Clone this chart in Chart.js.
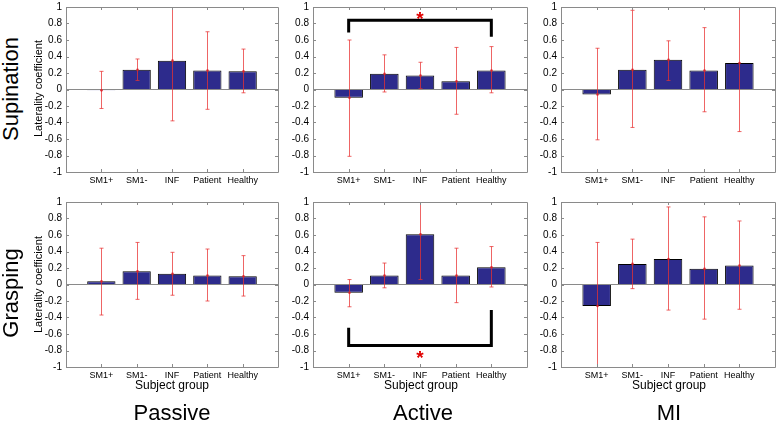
<!DOCTYPE html>
<html>
<head>
<meta charset="utf-8">
<script src="https://cdn.jsdelivr.net/npm/chart.js@4.4.1/dist/chart.umd.min.js"></script>
<style>
  html, body { margin: 0; padding: 0; background: #fff; overflow: hidden; }
  #fig { position: relative; width: 778px; height: 423px; font-family: 'Liberation Sans', Arial, Helvetica, sans-serif; }
  #fig canvas { position: absolute; }
  .lbl { position: absolute; white-space: nowrap; text-align: center; color: #000; }
  .rot { transform: rotate(-90deg); }
</style>
</head>
<body>
<div id="fig"></div>
<script>
var groups = ['SM1+', 'SM1-', 'INF', 'Patient', 'Healthy'];
var yTickValues = [-1, -0.8, -0.6, -0.4, -0.2, 0, 0.2, 0.4, 0.6, 0.8, 1];
var rowNames = ['Supination', 'Grasping'];
var colNames = ['Passive', 'Active', 'MI'];

// mean laterality coefficient and error bar ends, per condition
var supPassiveMean = [-0.01, 0.24, 0.35, 0.23, 0.22];
var supPassiveLow  = [-0.23, 0.11, -0.38, -0.24, -0.04];
var supPassiveHigh = [0.22, 0.37, 1.05, 0.70, 0.49];

var supActiveMean = [-0.10, 0.19, 0.17, 0.10, 0.23];
var supActiveLow  = [-0.81, -0.03, 0.01, -0.30, -0.04];
var supActiveHigh = [0.60, 0.42, 0.33, 0.51, 0.52];

var supMiMean = [-0.06, 0.24, 0.36, 0.23, 0.32];
var supMiLow  = [-0.61, -0.46, 0.11, -0.27, -0.51];
var supMiHigh = [0.50, 0.96, 0.59, 0.75, 1.05];

var grPassiveMean = [0.04, 0.16, 0.13, 0.11, 0.10];
var grPassiveLow  = [-0.37, -0.18, -0.13, -0.20, -0.14];
var grPassiveHigh = [0.44, 0.51, 0.39, 0.43, 0.35];

var grActiveMean = [-0.10, 0.11, 0.61, 0.11, 0.21];
var grActiveLow  = [-0.27, -0.04, 0.06, -0.22, -0.03];
var grActiveHigh = [0.06, 0.26, 1.05, 0.44, 0.46];

var grMiMean = [-0.26, 0.25, 0.31, 0.19, 0.23];
var grMiLow  = [-1.05, -0.05, -0.31, -0.42, -0.30];
var grMiHigh = [0.51, 0.55, 0.94, 0.82, 0.77];

// significance brackets: [bar level, left leg end, right leg end, star level]
var supActiveBracket = [0.84, 0.69, 0.64, 0.92];
var grActiveBracket = [-0.74, -0.525, -0.31, -0.83];

var fontFamily = "'Liberation Sans', Arial, Helvetica, sans-serif";
var fig = document.getElementById('fig');

var errorBarPlugin = {
    id: 'errorBars',
    afterDatasetsDraw: function (chart, args, opts) {
        var ctx = chart.ctx, x = chart.scales.x, y = chart.scales.y, a = chart.chartArea;
        ctx.save();
        ctx.beginPath();
        ctx.rect(a.left, a.top, a.right - a.left, a.bottom - a.top);
        ctx.clip();
        ctx.strokeStyle = 'rgba(232,50,50,0.75)';
        ctx.fillStyle = 'rgba(220,30,40,0.85)';
        ctx.lineWidth = 1;
        opts.low.forEach(function (lo, i) {
            var px = Math.round(x.getPixelForValue(i + 1)) + 0.5;
            var pLo = y.getPixelForValue(lo);
            var pHi = y.getPixelForValue(opts.high[i]);
            ctx.beginPath();
            ctx.moveTo(px, pLo); ctx.lineTo(px, pHi);
            ctx.moveTo(px - 2, pLo); ctx.lineTo(px + 2, pLo);
            ctx.moveTo(px - 2, pHi); ctx.lineTo(px + 2, pHi);
            ctx.stroke();
            ctx.beginPath();
            ctx.arc(px, y.getPixelForValue(opts.mean[i]), 1.3, 0, Math.PI * 2);
            ctx.fill();
        });
        ctx.restore();
    }
};

var framePlugin = {
    id: 'frame',
    afterDraw: function (chart) {
        var ctx = chart.ctx, a = chart.chartArea, x = chart.scales.x, y = chart.scales.y;
        ctx.save();
        ctx.strokeStyle = '#8a8a8a';
        ctx.lineWidth = 1;
        ctx.beginPath();
        ctx.rect(Math.round(a.left) + 0.5, Math.round(a.top) + 0.5,
                 Math.round(a.right - a.left), Math.round(a.bottom - a.top));
        yTickValues.forEach(function (v) {
            var py = Math.round(y.getPixelForValue(v)) + 0.5;
            ctx.moveTo(a.left, py); ctx.lineTo(a.left + 3, py);
            ctx.moveTo(a.right, py); ctx.lineTo(a.right - 3, py);
        });
        groups.forEach(function (g, i) {
            var px = Math.round(x.getPixelForValue(i + 1)) + 0.5;
            ctx.moveTo(px, a.bottom); ctx.lineTo(px, a.bottom - 3);
            ctx.moveTo(px, a.top); ctx.lineTo(px, a.top + 3);
        });
        ctx.stroke();
        ctx.restore();
    }
};

var bracketPlugin = {
    id: 'bracket',
    afterDraw: function (chart, args, opts) {
        if (!opts.levels) return;
        var ctx = chart.ctx, x = chart.scales.x, y = chart.scales.y;
        var b = opts.levels;
        var x1 = x.getPixelForValue(1), x2 = x.getPixelForValue(5);
        ctx.save();
        ctx.strokeStyle = '#000';
        ctx.lineWidth = 3;
        ctx.lineJoin = 'miter';
        ctx.beginPath();
        ctx.moveTo(x1, y.getPixelForValue(b[1]));
        ctx.lineTo(x1, y.getPixelForValue(b[0]));
        ctx.lineTo(x2, y.getPixelForValue(b[0]));
        ctx.lineTo(x2, y.getPixelForValue(b[2]));
        ctx.stroke();
        ctx.fillStyle = '#e00000';
        ctx.font = 'bold 19px ' + fontFamily;
        ctx.textAlign = 'center';
        ctx.textBaseline = 'alphabetic';
        ctx.fillText('*', x.getPixelForValue(3), y.getPixelForValue(b[3]) + 11);
        ctx.restore();
    }
};

var panels = [
    { left: 66,  top: 5,   width: 213, height: 167, mean: supPassiveMean, low: supPassiveLow, high: supPassiveHigh },
    { left: 313, top: 5,   width: 215, height: 167, mean: supActiveMean, low: supActiveLow, high: supActiveHigh, bracket: supActiveBracket },
    { left: 561, top: 5,   width: 215, height: 167, mean: supMiMean, low: supMiLow, high: supMiHigh },
    { left: 66,  top: 200, width: 213, height: 167, mean: grPassiveMean, low: grPassiveLow, high: grPassiveHigh },
    { left: 313, top: 200, width: 215, height: 167, mean: grActiveMean, low: grActiveLow, high: grActiveHigh, bracket: grActiveBracket },
    { left: 561, top: 200, width: 215, height: 167, mean: grMiMean, low: grMiLow, high: grMiHigh }
];

var padTop = 8, padRight = 2, yAxisW = 40, xAxisH = 22;

panels.forEach(function (p) {
    var canvas = document.createElement('canvas');
    canvas.width = p.width + yAxisW + padRight;
    canvas.height = p.height + padTop + xAxisH;
    canvas.style.left = (p.left - yAxisW) + 'px';
    canvas.style.top = (p.top - padTop) + 'px';
    fig.appendChild(canvas);

    new Chart(canvas, {
        type: 'bar',
        data: {
            labels: [''].concat(groups, ['']),
            datasets: [{
                data: [null].concat(p.mean, [null]),
                backgroundColor: '#2d2b8c',
                borderColor: '#000',
                borderWidth: 1,
                categoryPercentage: 1,
                barPercentage: 0.8
            }]
        },
        options: {
            responsive: false,
            animation: false,
            events: [],
            layout: { padding: { top: padTop, right: padRight, left: 0, bottom: 0 } },
            plugins: {
                legend: { display: false },
                tooltip: { enabled: false },
                errorBars: { mean: p.mean, low: p.low, high: p.high },
                bracket: { levels: p.bracket || null }
            },
            scales: {
                x: {
                    type: 'category',
                    offset: false,
                    grid: { display: false, drawTicks: false },
                    border: { display: false },
                    ticks: { color: '#000', font: { family: fontFamily, size: 9 }, padding: 3, maxRotation: 0, autoSkip: false },
                    afterFit: function (s) { s.height = xAxisH; }
                },
                y: {
                    min: -1,
                    max: 1,
                    afterBuildTicks: function (s) {
                        s.ticks = yTickValues.map(function (v) { return { value: v }; });
                    },
                    ticks: {
                        color: '#000',
                        font: { family: fontFamily, size: 10 },
                        padding: 4,
                        autoSkip: false,
                        callback: function (v) { return String(v); }
                    },
                    grid: {
                        drawTicks: false,
                        lineWidth: 1,
                        color: function (c) { return c.tick && c.tick.value === 0 ? '#8a8a8a' : 'rgba(0,0,0,0)'; }
                    },
                    border: { display: false },
                    afterFit: function (s) { s.width = yAxisW; }
                }
            }
        },
        plugins: [errorBarPlugin, framePlugin, bracketPlugin]
    });
});

function addLabel(text, cx, cy, size, rotate) {
    var d = document.createElement('div');
    d.className = 'lbl' + (rotate ? ' rot' : '');
    d.textContent = text;
    d.style.fontSize = size + 'px';
    d.style.lineHeight = size + 'px';
    d.style.width = '200px';
    d.style.height = size + 'px';
    d.style.left = (cx - 100) + 'px';
    d.style.top = (cy - size / 2) + 'px';
    fig.appendChild(d);
}

addLabel(rowNames[0], 11, 89, 22, true);
addLabel(rowNames[1], 11, 293, 22, true);
addLabel('Laterality coefficient', 37.5, 88.5, 11, true);
addLabel('Laterality coefficient', 37.5, 284, 11, true);

var colCenters = [172, 421, 669];
colCenters.forEach(function (cx, i) {
    addLabel('Subject group', cx, 385, 12, false);
    addLabel(colNames[i], cx + (i === 1 ? 2 : 0), 413, 22, false);
});
</script>
</body>
</html>
